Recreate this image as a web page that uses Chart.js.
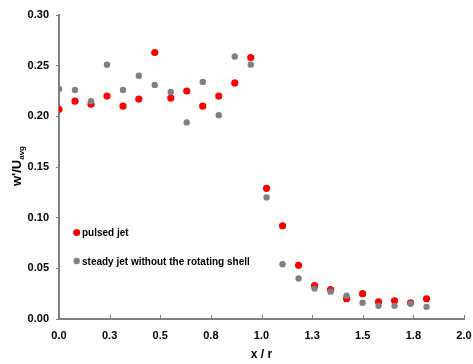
<!DOCTYPE html>
<html>
<head>
<meta charset="utf-8">
<script src="https://cdn.jsdelivr.net/npm/chart.js@4/dist/chart.umd.min.js"></script>
<style>
  html, body { margin: 0; padding: 0; background: #ffffff; }
  #wrap { width: 473px; height: 364px; }
</style>
</head>
<body>
<div id="wrap"><canvas id="c" width="473" height="364"></canvas></div>
<script>
// Radial position x / r of each measurement station
const xPositions = [0.000, 0.079, 0.158, 0.237, 0.316, 0.394, 0.473, 0.552, 0.631, 0.710, 0.789, 0.868,
                    0.947, 1.025, 1.104, 1.183, 1.262, 1.341, 1.420, 1.499, 1.578, 1.657, 1.736, 1.815];

// w'/U_avg for the pulsed jet
const pulsedJet = [0.207, 0.215, 0.212, 0.220, 0.210, 0.217, 0.263, 0.218, 0.225, 0.210, 0.220, 0.233,
                   0.258, 0.129, 0.092, 0.053, 0.033, 0.029, 0.020, 0.025, 0.017, 0.018, 0.016, 0.020];

// w'/U_avg for the steady jet without the rotating shell
const steadyJet = [0.227, 0.226, 0.215, 0.251, 0.226, 0.240, 0.231, 0.224, 0.194, 0.234, 0.201, 0.259,
                   0.251, 0.120, 0.054, 0.040, 0.030, 0.027, 0.023, 0.016, 0.013, 0.013, 0.015, 0.012];

const seriesNames = ['pulsed jet', 'steady jet without the rotating shell'];

const xTickValues = [0, 0.25, 0.5, 0.75, 1.0, 1.25, 1.5, 1.75, 2.0];
const xTickLabels = ['0.0', '0.3', '0.5', '0.8', '1.0', '1.3', '1.5', '1.8', '2.0'];
const yTickValues = [0, 0.05, 0.10, 0.15, 0.20, 0.25, 0.30];
const yTickLabels = ['0.00', '0.05', '0.10', '0.15', '0.20', '0.25', '0.30'];

const FONT = "'Liberation Sans', Arial, sans-serif";
const AXIS_GREY = '#808080';

Chart.defaults.font.family = FONT;
Chart.defaults.color = '#000000';

function toPoints(xs, ys) {
  return xs.map((x, i) => ({ x: x, y: ys[i] }));
}

// Titles, in-pointing x ticks and the in-plot legend
const decorations = {
  id: 'decorations',
  afterDraw(chart) {
    const ctx = chart.ctx;
    const xs = chart.scales.x;
    const area = chart.chartArea;
    ctx.save();

    // x-axis tick marks pointing into the plot
    ctx.strokeStyle = AXIS_GREY;
    ctx.lineWidth = 1;
    xTickValues.forEach(v => {
      const px = Math.round(xs.getPixelForValue(v)) + 0.5;
      ctx.beginPath();
      ctx.moveTo(px, area.bottom);
      ctx.lineTo(px, area.bottom - 4);
      ctx.stroke();
    });

    // x-axis title
    ctx.fillStyle = '#000000';
    ctx.font = 'bold 12px ' + FONT;
    ctx.textAlign = 'center';
    ctx.textBaseline = 'alphabetic';
    ctx.fillText('x / r', (area.left + area.right) / 2, 358);

    // y-axis title with subscript
    ctx.save();
    ctx.translate(20.5, 166);
    ctx.rotate(-Math.PI / 2);
    ctx.font = 'bold 13px ' + FONT;
    const main = "w'/U";
    const wMain = ctx.measureText(main).width;
    ctx.font = 'bold 8px ' + FONT;
    const sub = 'avg';
    const wSub = ctx.measureText(sub).width;
    const start = -(wMain + wSub) / 2;
    ctx.textAlign = 'left';
    ctx.font = 'bold 13px ' + FONT;
    ctx.fillText(main, start, 0);
    ctx.font = 'bold 8px ' + FONT;
    ctx.fillText(sub, start + wMain, 3);
    ctx.restore();

    // legend inside the plot
    const rows = [
      { ds: chart.data.datasets[0], dotY: 232.5, textY: 236 },
      { ds: chart.data.datasets[1], dotY: 261, textY: 264.5 }
    ];
    ctx.font = 'bold 10px ' + FONT;
    ctx.textAlign = 'left';
    rows.forEach(r => {
      ctx.fillStyle = r.ds.backgroundColor;
      ctx.beginPath();
      ctx.arc(76.7, r.dotY, r.ds.pointRadius, 0, Math.PI * 2);
      ctx.fill();
      ctx.fillStyle = '#000000';
      ctx.fillText(r.ds.label, 82, r.textY);
    });

    ctx.restore();
  }
};

new Chart(document.getElementById('c'), {
  type: 'scatter',
  data: {
    datasets: [
      {
        label: seriesNames[0],
        data: toPoints(xPositions, pulsedJet),
        backgroundColor: '#ff0000',
        borderColor: '#ff0000',
        borderWidth: 0,
        pointRadius: 3.6,
        order: 1
      },
      {
        label: seriesNames[1],
        data: toPoints(xPositions, steadyJet),
        backgroundColor: '#808080',
        borderColor: '#808080',
        borderWidth: 0,
        pointRadius: 3.2,
        order: 0
      }
    ]
  },
  options: {
    responsive: false,
    animation: false,
    devicePixelRatio: 1,
    layout: { padding: { top: 15, right: 0, left: 0, bottom: 0 } },
    plugins: {
      legend: { display: false },
      tooltip: { enabled: false }
    },
    scales: {
      x: {
        type: 'linear',
        min: 0,
        max: 2,
        afterBuildTicks: s => { s.ticks = xTickValues.map(v => ({ value: v })); },
        afterFit: s => { s.height = 45; s.paddingRight = 9; },
        grid: { display: true, drawOnChartArea: false, drawTicks: false },
        border: { display: true, color: AXIS_GREY, width: 2 },
        ticks: {
          padding: 10,
          maxRotation: 0,
          autoSkip: false,
          font: { size: 11, weight: 'bold' },
          color: '#000000',
          callback: (v, i) => xTickLabels[i]
        }
      },
      y: {
        type: 'linear',
        min: 0,
        max: 0.3,
        afterBuildTicks: s => { s.ticks = yTickValues.map(v => ({ value: v })); },
        afterFit: s => { s.width = 59; },
        grid: { display: true, drawOnChartArea: false, drawTicks: true, tickLength: 3, color: AXIS_GREY },
        border: { display: true, color: AXIS_GREY, width: 2 },
        ticks: {
          padding: 7,
          autoSkip: false,
          font: { size: 11, weight: 'bold' },
          color: '#000000',
          callback: (v, i) => yTickLabels[i]
        }
      }
    }
  },
  plugins: [decorations]
});
</script>
</body>
</html>
